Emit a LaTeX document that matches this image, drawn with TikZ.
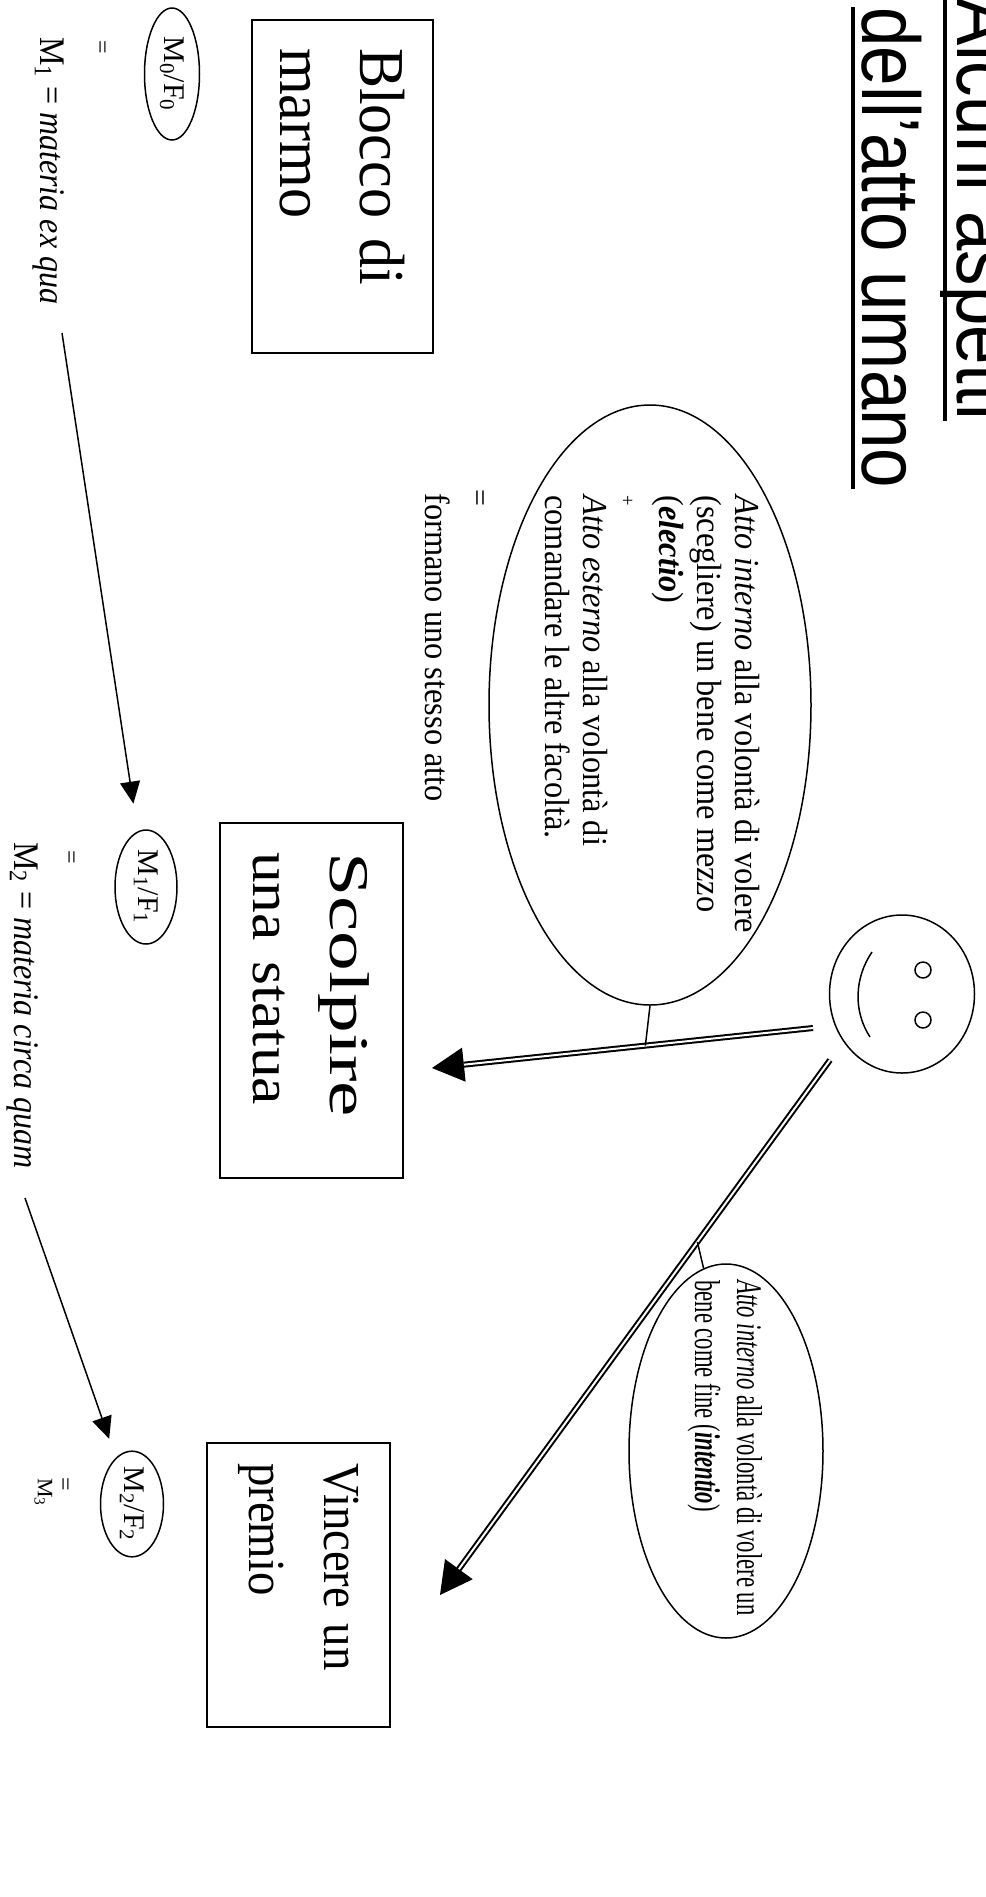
\documentclass[tikz,border=0pt]{standalone}
\usepackage{fontspec}
\usepackage{graphicx}
\usetikzlibrary{shapes.geometric, arrows.meta, calc}
\setmainfont{Liberation Serif}
\newfontfamily\titlefont{Liberation Sans}
\newcommand{\sqz}[2]{\scalebox{#1}[1]{#2}}

\begin{document}
\begin{tikzpicture}[x=0.5pt, y=-0.5pt,
    every node/.style={rotate=-90, inner sep=0pt},
    titlerow/.style={anchor=base west, font=\titlefont\fontsize{41pt}{49pt}\selectfont},
    framebox/.style={draw, line width=0.75pt, align=left},
    mfoval/.style={ellipse, draw, line width=0.75pt, font=\fontsize{15pt}{15pt}\selectfont},
    bigoval/.style={ellipse, draw, line width=0.75pt},
    mrow/.style={anchor=base west, font=\fontsize{18pt}{18pt}\selectfont},
    eqsign/.style={font=\fontsize{12pt}{12pt}\selectfont},
    ovaltext/.style={font=\fontsize{17.5pt}{19pt}\selectfont},
    eyedot/.style={circle, draw, line width=0.75pt, minimum size=8pt},
    tether/.style={line width=0.75pt},
    plainarrow/.style={line width=0.75pt, -{Triangle[length=11pt, width=10pt]}},
    fatarrow/.style={line width=3pt, -{Triangle[length=16pt, width=17pt, line width=0.5pt]}},
    fatcore/.style={white, line width=1pt, shorten >=16pt}
]
\useasboundingbox (0,0) rectangle (986,1897);
\fill[white] (0,0) rectangle (986,1897);
\clip (0,0) rectangle (986,1897);

% titolo
\node[titlerow] (tit1) at (957,-2) {\sqz{0.865}{Alcuni aspetti}};
\node[titlerow] (tit2) at (862,7) {\sqz{0.865}{dell’atto umano}};
\draw[line width=2pt] ([xshift=-6pt]tit1.base west) -- ([xshift=-6pt]tit1.base east);
\draw[line width=2pt] ([xshift=-4.5pt]tit2.base west) -- ([xshift=-4.5pt]tit2.base east);

% riquadri
\node[framebox, minimum height=90.5pt, inner xsep=14pt, text width=138.5pt,
      font=\fontsize{32pt}{40pt}\selectfont] (marmo) at (342.5,186.5)
      {\sqz{0.94}{Blocco di}\\\sqz{0.94}{marmo}};
\node[framebox, minimum height=91.5pt, inner xsep=14.5pt, text width=148.5pt,
      font=\fontsize{28pt}{38.5pt}\selectfont] (statua) at (311.5,1000.5)
      {\sqz{1.42}{Scolpire}\\\sqz{1.1}{una statua}};
\node[framebox, minimum height=91.5pt, inner xsep=10pt, text width=122pt,
      font=\fontsize{26pt}{37.5pt}\selectfont] (premio) at (298.5,1585)
      {\sqz{0.9}{Vincere un}\\\sqz{0.9}{premio}};

% materia / forma
\node[mfoval, minimum width=66pt, minimum height=27.5pt] (mf0) at (172,74) {M\textsubscript{0}/F\textsubscript{0}};
\node[mfoval, minimum width=57pt, minimum height=31pt] (mf1) at (146,887) {M\textsubscript{1}/F\textsubscript{1}};
\node[mfoval, minimum width=49pt, minimum height=31.5pt] (mf2) at (132,1504) {M\textsubscript{2}/F\textsubscript{2}};

\node[eqsign] (eq0) at (100,47) {=};
\node[eqsign] (eq1) at (69,857) {=};
\node[eqsign] (eq2) at (63,1484) {=};

\node[mrow] (m1) at (40,37) {\sqz{0.89}{M\textsubscript{1} = \textit{materia ex qua}}};
\node[mrow] (m2) at (15,842) {\sqz{0.89}{M\textsubscript{2} = \textit{materia circa quam}}};
\node[mrow, font=\fontsize{11pt}{11pt}\selectfont] (m3) at (38,1478) {M\textsubscript{3}};

\coordinate (exqua) at (62,333);
\coordinate (circaquam) at (25,1198);
\draw[plainarrow, shorten >=14pt] (exqua) -- (mf1);
\draw[plainarrow, shorten >=10pt] (circaquam) -- (mf2);

% electio
\node[bigoval, minimum width=300pt, minimum height=161pt] (mezzo) at (650,705) {};
\node[ovaltext, anchor=base west] (mezzotxt) at (735,495) {\sqz{0.925}{\begin{tabular}[t]{@{}l@{}}
\textit{Atto interno} alla volontà di volere\\
(scegliere) un bene come mezzo\\
(\textbf{\textit{electio}})\\
{\fontsize{10pt}{10pt}\selectfont +}\\
\textit{Atto esterno} alla volontà di\\
comandare le altre facoltà.
\end{tabular}}};
\node[eqsign, font=\fontsize{15pt}{15pt}\selectfont] (eq3) at (477,498) {=};
\node[ovaltext, anchor=base west] (unito) at (425,493) {\sqz{0.925}{formano uno stesso atto}};

% intentio
\node[bigoval, minimum width=187pt, minimum height=97pt] (fine) at (726,1451) {};
\node[ovaltext, anchor=base west, font=\fontsize{18pt}{21pt}\selectfont] (finetxt) at (737,1280) {\sqz{0.63}{\begin{tabular}[t]{@{}l@{}}
\textit{Atto interno} alla volontà di volere un\\
bene come fine (\textbf{\textit{intentio}})
\end{tabular}}};

% faccina
\node[bigoval, minimum width=79pt, minimum height=72.5pt] (face) at (902,994) {};
\node[eyedot] (eye1) at (923,970) {};
\node[eyedot] (eye2) at (923,1020) {};
\draw[tether] (872,952) .. controls (854.5,977.5) and (853,1011) .. (870,1037);

% frecce doppie
\coordinate (fromA) at (813,1028);
\coordinate (tipA) at (432,1068);
\coordinate (fromB) at (830,1060);
\coordinate (tipB) at (440,1595);
\draw[fatarrow] (fromA) -- (tipA);
\draw[fatcore] (fromA) -- (tipA);
\draw[fatarrow] (fromB) -- (tipB);
\draw[fatcore] (fromB) -- (tipB);
\draw[tether] (mezzo.east) -- ($(fromA)!0.44!(tipA)$);
\draw[tether] ($(fromB)!0.34!(tipB)$) -- (fine.187);
\end{tikzpicture}
\end{document}
